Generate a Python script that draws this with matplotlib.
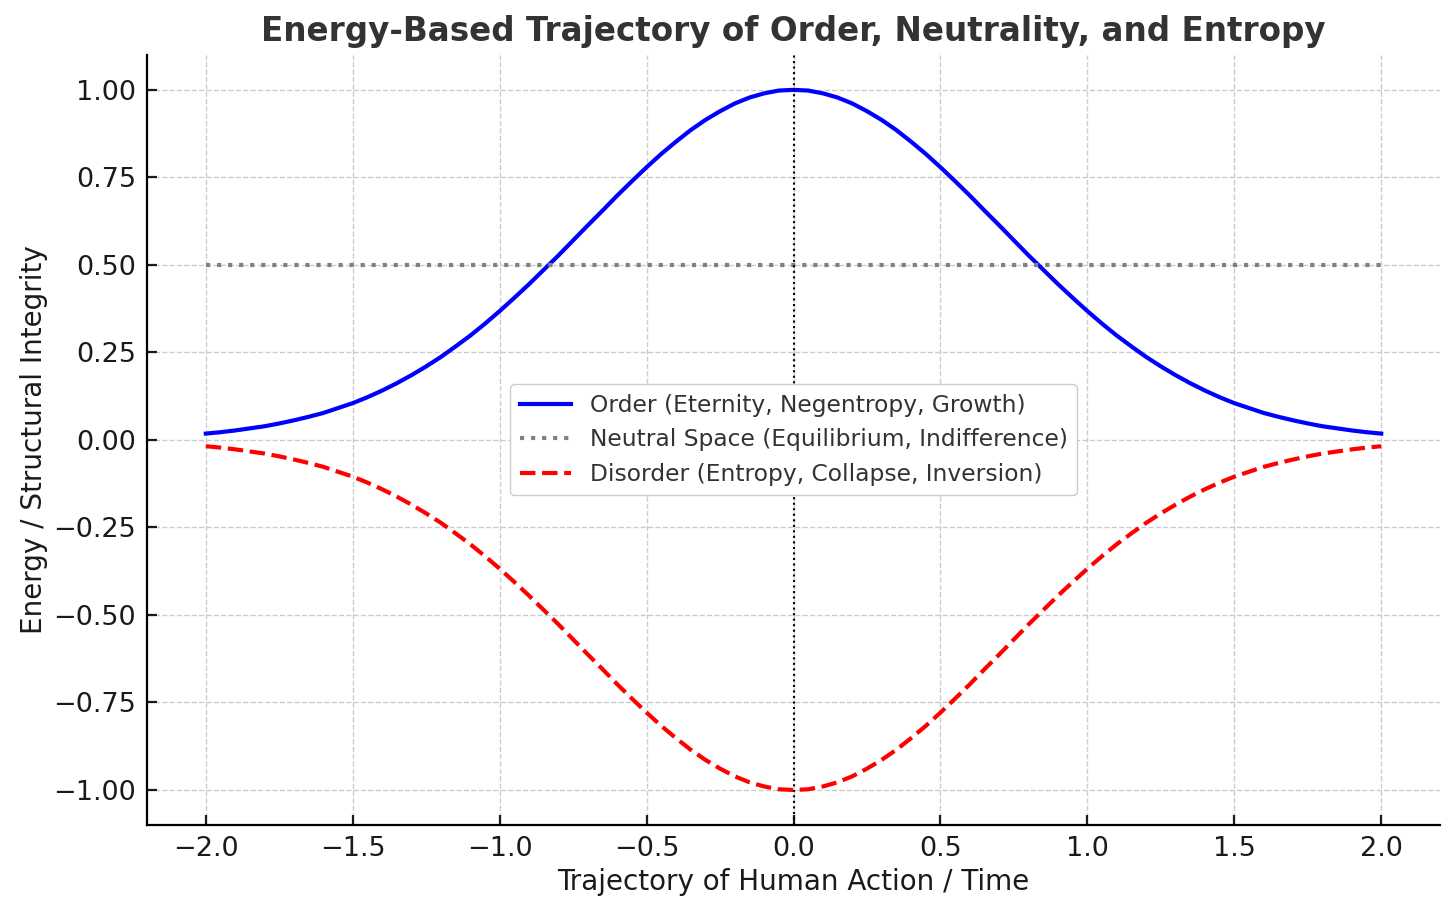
import matplotlib
matplotlib.use('Agg')
import matplotlib.pyplot as plt

x_half = [-2.0, -1.95, -1.9, -1.85, -1.8, -1.75, -1.7, -1.65, -1.6, -1.55,
          -1.5, -1.45, -1.4, -1.35, -1.3, -1.25, -1.2, -1.15, -1.1, -1.05,
          -1.0, -0.95, -0.9, -0.85, -0.8, -0.75, -0.7, -0.65, -0.6, -0.55,
          -0.5, -0.45, -0.4, -0.35, -0.3, -0.25, -0.2, -0.15, -0.1, -0.05]
order_half = [0.018, 0.022, 0.027, 0.033, 0.039, 0.047, 0.056, 0.066, 0.077, 0.091,
              0.105, 0.122, 0.141, 0.162, 0.185, 0.210, 0.237, 0.267, 0.298, 0.332,
              0.368, 0.406, 0.445, 0.486, 0.527, 0.570, 0.613, 0.655, 0.698, 0.739,
              0.779, 0.817, 0.852, 0.885, 0.914, 0.939, 0.961, 0.978, 0.990, 0.998]
x_vals = x_half + [0.0] + [-v for v in x_half[::-1]]
order_vals = order_half + [1.0] + order_half[::-1]
neutral_vals = [0.5] * len(x_vals)
disorder_vals = [-v for v in order_vals]

labels = ['Order (Eternity, Negentropy, Growth)',
          'Neutral Space (Equilibrium, Indifference)',
          'Disorder (Entropy, Collapse, Inversion)']
yticks = [-1.0, -0.75, -0.5, -0.25, 0.0, 0.25, 0.5, 0.75, 1.0]
xticks = [-2.0, -1.5, -1.0, -0.5, 0.0, 0.5, 1.0, 1.5, 2.0]

fig = plt.figure(figsize=(14.56, 9.14), dpi=100)
ax = fig.add_axes([0.101, 0.0974, 0.888, 0.8426])

ax.plot(x_vals, order_vals, color='blue', linewidth=3, label=labels[0])
ax.plot(x_vals, neutral_vals, color='gray', linestyle=':', linewidth=3, label=labels[1])
ax.plot(x_vals, disorder_vals, color='red', linestyle='--', linewidth=3, label=labels[2])
ax.axvline(0, color='black', linestyle=':', linewidth=1.5)

ax.set_xlim(-2.2, 2.2)
ax.set_ylim(-1.1, 1.1)
ax.set_xticks(xticks)
ax.set_yticks(yticks)
ax.set_yticklabels(['%.2f' % v if v >= 0 else '\u2212%.2f' % -v for v in yticks])

ax.grid(True, linestyle='--', color='#cccccc', linewidth=1)
ax.spines['top'].set_visible(False)
ax.spines['right'].set_visible(False)
ax.spines['left'].set_linewidth(1.6)
ax.spines['bottom'].set_linewidth(1.6)
ax.tick_params(direction='in', length=7, width=1.6, labelsize=19.5, colors='#1a1a1a', pad=8)

ax.set_xlabel('Trajectory of Human Action / Time', fontsize=20, color='#1a1a1a')
ax.set_ylabel('Energy / Structural Integrity', fontsize=20, color='#1a1a1a')
ax.set_title('Energy-Based Trajectory of Order, Neutrality, and Entropy',
             fontsize=23.5, fontweight='bold', color='#333333', pad=10)

leg = ax.legend(loc='center', fontsize=16.8, framealpha=1, edgecolor='#cccccc',
                handlelength=2.2)
for t in leg.get_texts():
    t.set_color('#333333')

fig.savefig('out.png', dpi=100)
